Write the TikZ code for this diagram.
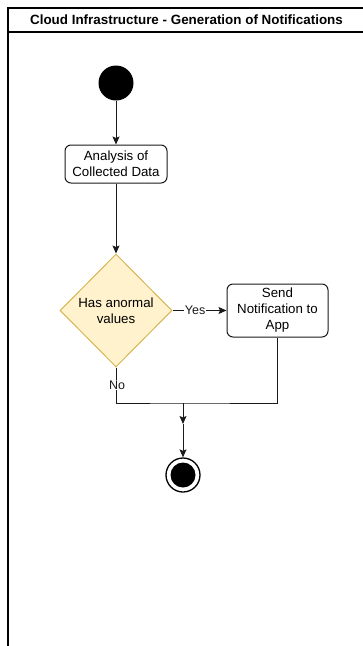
\documentclass[tikz,border=0pt]{standalone}
\usepackage{fontspec}
\setmainfont{Liberation Sans}
\usetikzlibrary{shapes.geometric,arrows.meta}

\definecolor{inkgray}{HTML}{1A1A1A}
\definecolor{decfill}{HTML}{FFF2CC}
\definecolor{decline}{HTML}{D6B656}

\tikzset{
  flow/.style={line width=1pt, draw=inkgray},
  arr/.style={flow, -{Stealth[length=8pt,width=7pt,inset=1.5pt]}},
  actbox/.style={draw=inkgray, line width=1pt, rounded corners=6pt, fill=white,
    align=center, inner sep=0pt, font=\fontsize{13.3}{16}\selectfont},
  decision/.style={diamond, draw=decline, fill=decfill, line width=1pt,
    inner sep=0pt, minimum width=112pt, minimum height=113pt, align=center,
    font=\fontsize{13.3}{16.5}\selectfont},
  edgelabel/.style={fill=white, inner sep=1pt, font=\fontsize{12.5}{14}\selectfont, text=inkgray},
  lane/.style={line width=1.3pt, draw=black},
}

\begin{document}
\begin{tikzpicture}[x=1pt, y=-1pt]
  \useasboundingbox (0,0) rectangle (363,646);

  % swimlane frame and header
  \draw[lane] (8,647) -- (8,8) -- (364,8);
  \draw[lane] (8,32) -- (364,32);
  \node (title) at (186.5,19.5) {\fontsize{13.4}{15}\selectfont\bfseries Cloud Infrastructure - Generation of Notifications};

  % start state
  \node[circle, fill=black, minimum size=35pt, inner sep=0pt] (start) at (116,83) {};

  % activities
  \node[actbox, minimum width=102pt, minimum height=38pt] (analysis) at (116,164)
    {Analysis of\\Collected Data};
  \node[decision] (check) at (116,310.5) {Has anormal\\values};
  \node[actbox, minimum width=101pt, minimum height=53pt] (send) at (277.5,310.5)
    {Send\\Notification to\\App};

  % merge point and end state
  \coordinate (merge) at (183,403);
  \coordinate (join) at (183,424);
  \node[circle, draw=black, line width=1.3pt, minimum size=34pt, inner sep=0pt] (final) at (183,475) {};
  \node[circle, fill=black, minimum size=25pt, inner sep=0pt] (finaldot) at (final.center) {};

  % connectors
  \draw[arr] (start) -- (analysis);
  \draw[arr] (analysis) -- (check.north);
  \draw[arr] (check.east) -- node[edgelabel, pos=0.42] (yes) {Yes} (send.west);
  \draw[flow] (check.south) |- (merge) -| (send.south);
  \node[edgelabel] (no) at (117,385) {No};
  \draw[arr] (merge) -- (join);
  \draw[arr] (join) -- (final.north);
\end{tikzpicture}
\end{document}
